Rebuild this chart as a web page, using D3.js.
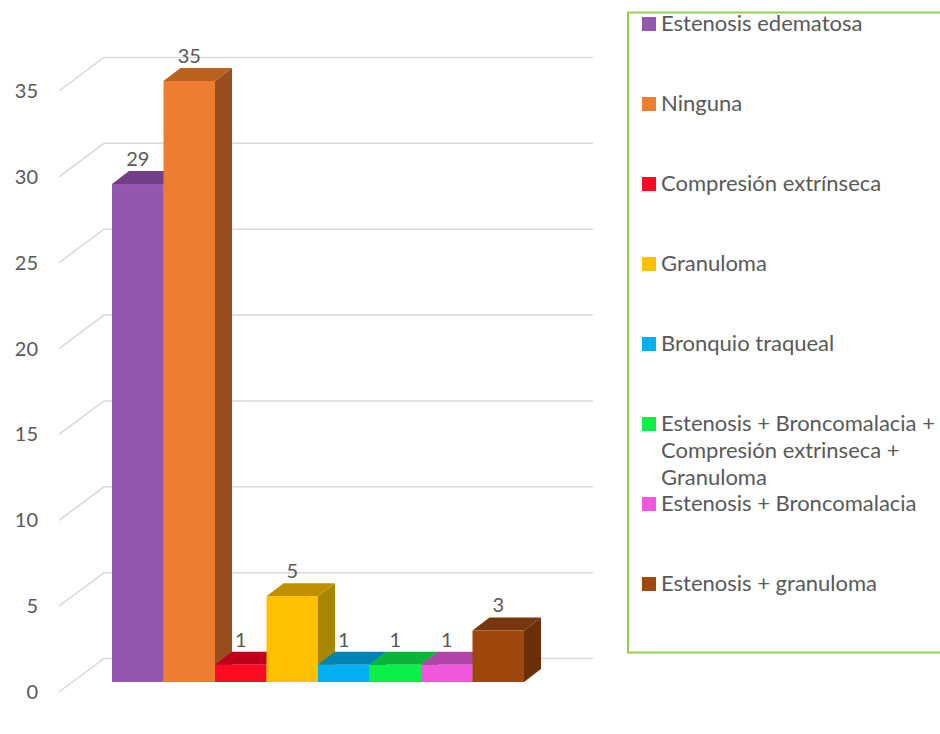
<!DOCTYPE html>
<html>
<head>
<meta charset="utf-8">
<script src="https://cdn.jsdelivr.net/npm/d3@7"></script>
<style>
  body { margin: 0; background: #fff; }
  svg text { font-family: Lato, "Open Sans", sans-serif; fill: #595959; }
</style>
</head>
<body>
<svg id="chart" width="940" height="734"></svg>
<script>
// categories and counts
const categories = [
    "Estenosis edematosa", "Ninguna", "Compresión extrínseca", "Granuloma",
    "Bronquio traqueal", "Estenosis + Broncomalacia + Compresión extrinseca + Granuloma",
    "Estenosis + Broncomalacia", "Estenosis + granuloma"
];
const values = [29, 35, 1, 5, 1, 1, 1, 3];
const legendLines = [
    ["Estenosis edematosa"], ["Ninguna"], ["Compresión extrínseca"], ["Granuloma"],
    ["Bronquio traqueal"], ["Estenosis + Broncomalacia +", "Compresión extrinseca +", "Granuloma"],
    ["Estenosis + Broncomalacia"], ["Estenosis + granuloma"]
];
const yTicks = [0, 5, 10, 15, 20, 25, 30, 35];

// front / top / side shades
const frontColors = ["#9457B0", "#ED7D31", "#FF0A23", "#FFC000", "#00B0F0", "#0AF048", "#F057DC", "#9E480E"];
const topColors   = ["#713F87", "#B9621F", "#C0001A", "#C09000", "#0084B4", "#0AB43A", "#B445A8", "#773610"];
const sideColors  = ["#6A3A80", "#9A4D1E", "#A80016", "#AA8500", "#00749F", "#089A32", "#9A3A90", "#6A300A"];

const svg = d3.select("#chart");

const depthX = 17, depthY = -13;

let x = d3.scaleBand()
    .domain(categories)
    .range([112, 524])
    .padding(0);

let y = d3.scaleLinear()
    .domain([0, 35])
    .range([682, 81]);

//back wall gridlines (back is 23.5px above the bar front, axis front is 10px below)
let grid = svg.append("g").attr("class", "grid");

grid.selectAll("path")
    .data(yTicks)
  .join("path")
    .attr("d", d => `M59,${y(d) + 10} L104,${y(d) - 23.5} L593,${y(d) - 23.5}`)
    .attr("fill", "none")
    .attr("stroke", "#D9D9D9")
    .attr("stroke-width", 1.5);

grid.selectAll("text")
    .data(yTicks)
  .join("text")
    .text(d => d)
    .attr("x", 38)
    .attr("y", d => y(d) + 10)
    .attr("dy", "0.35em")
    .attr("text-anchor", "end")
    .attr("font-size", 20);

//bars, drawn left to right so each bar covers the side of the previous one
let bars = svg.append("g").attr("class", "bars");

categories.forEach((c, i) => {
    let x0 = x(c), x1 = x(c) + x.bandwidth();
    let yt = y(values[i]), y0 = y(0);
    let g = bars.append("g");

    g.append("path")
        .attr("d", `M${x1},${yt} L${x1 + depthX},${yt + depthY} L${x1 + depthX},${y0 + depthY} L${x1},${y0} Z`)
        .attr("fill", sideColors[i]);

    g.append("path")
        .attr("d", `M${x0},${yt} L${x0 + depthX},${yt + depthY} L${x1 + depthX},${yt + depthY} L${x1},${yt} Z`)
        .attr("fill", topColors[i]);

    g.append("rect")
        .attr("x", x0)
        .attr("y", yt)
        .attr("width", x.bandwidth())
        .attr("height", y0 - yt)
        .attr("fill", frontColors[i]);

    g.append("text")
        .text(values[i])
        .attr("x", x0 + x.bandwidth() / 2)
        .attr("y", yt + depthY - 5)
        .attr("text-anchor", "middle")
        .attr("font-size", 20);
});

//legend
let legend = svg.append("g").attr("class", "legend");

legend.append("rect")
    .attr("x", 628)
    .attr("y", 12.5)
    .attr("width", 330)
    .attr("height", 640)
    .attr("fill", "none")
    .attr("stroke", "#92D050")
    .attr("stroke-width", 2);

let items = legend.selectAll("g.item")
    .data(categories)
  .join("g")
    .attr("class", "item")
    .attr("transform", (d, i) => `translate(642,${17 + i * 80})`);

items.append("rect")
    .attr("width", 14)
    .attr("height", 14)
    .attr("fill", (d, i) => frontColors[i]);

items.append("text")
    .attr("x", 19)
    .attr("y", 14)
    .attr("font-size", 22)
    .selectAll("tspan")
    .data((d, i) => legendLines[i])
  .join("tspan")
    .attr("x", 19)
    .attr("dy", (d, j) => j == 0 ? 0 : 27)
    .text(d => d);
</script>
</body>
</html>
